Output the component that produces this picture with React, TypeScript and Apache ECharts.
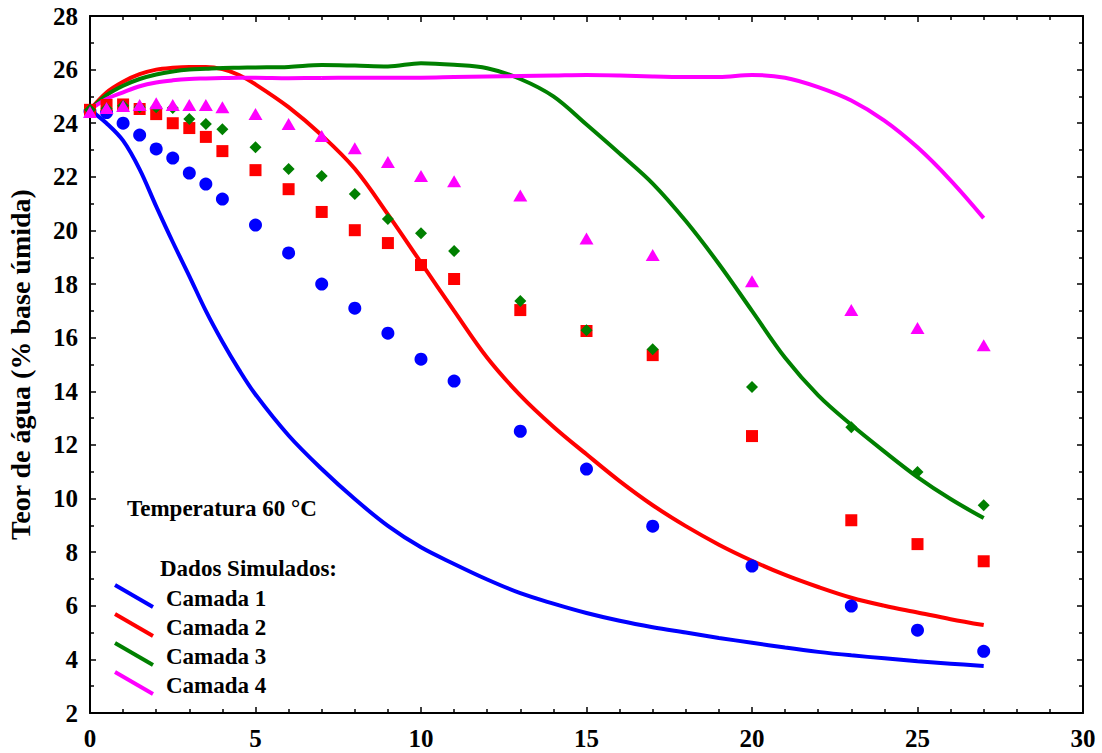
import React, { useEffect, useRef } from "react";
import * as echarts from "echarts";

// Experimental times (h) and measured water content (% wet basis)
const T_EXP = [0, 0.5, 1, 1.5, 2, 2.5, 3, 3.5, 4, 5, 6, 7, 8, 9, 10, 11, 13, 15, 17, 20, 23, 25, 27];
const EXP_C1 = [24.45, 24.4, 24.0, 23.56, 23.04, 22.7, 22.14, 21.73, 21.17, 20.2, 19.16, 18.0, 17.1, 16.17, 15.2, 14.38, 12.51, 11.1, 8.97, 7.48, 5.99, 5.09, 4.3];
const EXP_C2 = [24.5, 24.68, 24.7, 24.53, 24.34, 24.0, 23.82, 23.49, 22.96, 22.25, 21.54, 20.69, 20.01, 19.53, 18.71, 18.19, 17.03, 16.25, 15.35, 12.33, 9.19, 8.3, 7.66];
const EXP_C3 = [24.5, 24.55, 24.65, 24.6, 24.6, 24.57, 24.16, 23.97, 23.78, 23.1, 22.29, 22.03, 21.36, 20.43, 19.9, 19.23, 17.37, 16.28, 15.57, 14.16, 12.66, 10.99, 9.75];
const EXP_C4 = [24.42, 24.57, 24.64, 24.68, 24.75, 24.68, 24.68, 24.68, 24.6, 24.34, 23.97, 23.52, 23.07, 22.55, 22.03, 21.84, 21.3, 19.7, 19.08, 18.11, 17.03, 16.36, 15.72];

// Simulated curves
const T_SIM = [0, 0.5, 1, 1.5, 2, 2.5, 3, 3.5, 4, 4.5, 5, 6, 7, 8, 9, 10, 11, 12, 13, 14, 15, 16, 17, 18, 19, 20, 21, 22, 23, 24, 25, 26, 27];
const SIM_C1 = [24.5, 24.0, 23.35, 22.28, 20.9, 19.57, 18.3, 17.0, 15.85, 14.81, 13.88, 12.35, 11.1, 9.98, 8.98, 8.18, 7.56, 6.98, 6.47, 6.08, 5.73, 5.44, 5.2, 5.0, 4.8, 4.62, 4.44, 4.28, 4.15, 4.04, 3.93, 3.84, 3.75];
const SIM_C2 = [24.5, 25.15, 25.55, 25.83, 26.0, 26.07, 26.1, 26.1, 26.02, 25.8, 25.45, 24.6, 23.55, 22.3, 20.6, 18.8, 17.0, 15.25, 13.85, 12.68, 11.65, 10.65, 9.75, 8.97, 8.28, 7.68, 7.15, 6.7, 6.3, 6.0, 5.75, 5.5, 5.28];
const SIM_C3 = [24.5, 25.05, 25.4, 25.65, 25.82, 25.93, 26.0, 26.03, 26.06, 26.07, 26.08, 26.1, 26.17, 26.15, 26.12, 26.24, 26.18, 26.05, 25.65, 25.0, 23.95, 22.87, 21.75, 20.35, 18.75, 17.0, 15.25, 13.85, 12.75, 11.75, 10.8, 9.98, 9.27];
const SIM_C4 = [24.5, 24.9, 25.15, 25.38, 25.52, 25.6, 25.65, 25.67, 25.69, 25.7, 25.7, 25.68, 25.69, 25.7, 25.7, 25.7, 25.72, 25.74, 25.76, 25.78, 25.8, 25.78, 25.74, 25.72, 25.72, 25.8, 25.7, 25.35, 24.85, 24.1, 23.1, 21.87, 20.46];

const LAYER_NAMES = ["Camada 1", "Camada 2", "Camada 3", "Camada 4"];
const COLORS = ["#0000ff", "#ff0000", "#008000", "#ff00ff"];
const SYMBOLS = ["circle", "rect", "diamond", "triangle"];
const SYMBOL_SIZES: any[] = [13, 12, [12, 12], [14, 12]];

const X_MIN = 0, X_MAX = 30, X_STEP = 5;
const Y_MIN = 2, Y_MAX = 28, Y_STEP = 2;

const FONT = '"Liberation Serif", "Times New Roman", serif';

function pairs(xs: number[], ys: number[]) {
  return xs.map((x, i) => [x, ys[i]]);
}

export default function App() {
  const ref = useRef<HTMLDivElement>(null);
  useEffect(() => {
    document.body.style.margin = "0";
    const chart = echarts.init(ref.current!, null, { renderer: "svg" });
    const sims = [SIM_C1, SIM_C2, SIM_C3, SIM_C4];
    const exps = [EXP_C1, EXP_C2, EXP_C3, EXP_C4];

    const axisCommon = {
      axisLine: { show: true, onZero: false, lineStyle: { color: "#000", width: 2 } },
      axisTick: { show: true, inside: true, length: 6, lineStyle: { color: "#000", width: 1.5 } },
      minorTick: { show: true, length: 4, lineStyle: { color: "#000", width: 1.5 } },
      splitLine: { show: false },
    };

    const lineSeries = sims.map((s, i) => ({
      type: "line",
      name: LAYER_NAMES[i] + " sim",
      data: pairs(T_SIM, s),
      smooth: 0.35,
      showSymbol: false,
      symbol: "none",
      lineStyle: { color: COLORS[i], width: 4 },
      z: 2,
    }));
    const scatterSeries = [0, 1, 2, 3].map((i) => ({
      type: "scatter",
      name: LAYER_NAMES[i] + " exp",
      data: pairs(T_EXP, exps[i]),
      symbol: SYMBOLS[i],
      symbolSize: SYMBOL_SIZES[i],
      itemStyle: { color: COLORS[i], opacity: 1 },
      z: 3,
    }));

    const legendY = [598, 627, 656, 685];
    const graphics: any[] = [
      {
        type: "text",
        x: 127,
        y: 508,
        style: { text: "Temperatura 60 °C", font: `bold 23px ${FONT}`, fill: "#000", verticalAlign: "middle" },
      },
      {
        type: "text",
        x: 160,
        y: 568,
        style: { text: "Dados Simulados:", font: `bold 23px ${FONT}`, fill: "#000", verticalAlign: "middle" },
      },
    ];
    LAYER_NAMES.forEach((n, i) => {
      graphics.push({
        type: "line",
        shape: { x1: 115, y1: legendY[i] - 13, x2: 153, y2: legendY[i] + 9 },
        style: { stroke: COLORS[i], lineWidth: 4 },
      });
      graphics.push({
        type: "text",
        x: 166,
        y: legendY[i],
        style: { text: n, font: `bold 23px ${FONT}`, fill: "#000", verticalAlign: "middle" },
      });
    });

    chart.setOption({
      animation: false,
      backgroundColor: "#fff",
      grid: { left: 90, right: 19, top: 16, bottom: 40, containLabel: false, outerBoundsMode: "none" },
      xAxis: [
        {
          type: "value",
          min: X_MIN,
          max: X_MAX,
          interval: X_STEP,
          position: "bottom",
          ...axisCommon,
          minorTick: { ...axisCommon.minorTick, splitNumber: 5 },
          axisLabel: { color: "#000", fontFamily: FONT, fontWeight: "bold", fontSize: 25, margin: 13 },
        },
        {
          type: "value",
          min: X_MIN,
          max: X_MAX,
          interval: X_STEP,
          position: "top",
          ...axisCommon,
          minorTick: { ...axisCommon.minorTick, splitNumber: 5 },
          axisLabel: { show: false },
        },
      ],
      yAxis: [
        {
          type: "value",
          min: Y_MIN,
          max: Y_MAX,
          interval: Y_STEP,
          position: "left",
          ...axisCommon,
          minorTick: { ...axisCommon.minorTick, splitNumber: 2 },
          axisLabel: { color: "#000", fontFamily: FONT, fontWeight: "bold", fontSize: 25, margin: 12 },
          name: "Teor de água (% base úmida)",
          nameLocation: "middle",
          nameGap: 56,
          nameTextStyle: { color: "#000", fontFamily: FONT, fontWeight: "bold", fontSize: 28 },
        },
        {
          type: "value",
          min: Y_MIN,
          max: Y_MAX,
          interval: Y_STEP,
          position: "right",
          ...axisCommon,
          minorTick: { ...axisCommon.minorTick, splitNumber: 2 },
          axisLabel: { show: false },
        },
      ],
      series: [...lineSeries, ...scatterSeries],
      graphic: graphics,
    });
    return () => chart.dispose();
  }, []);
  return <div ref={ref} style={{ width: 1102, height: 753 }} />;
}
